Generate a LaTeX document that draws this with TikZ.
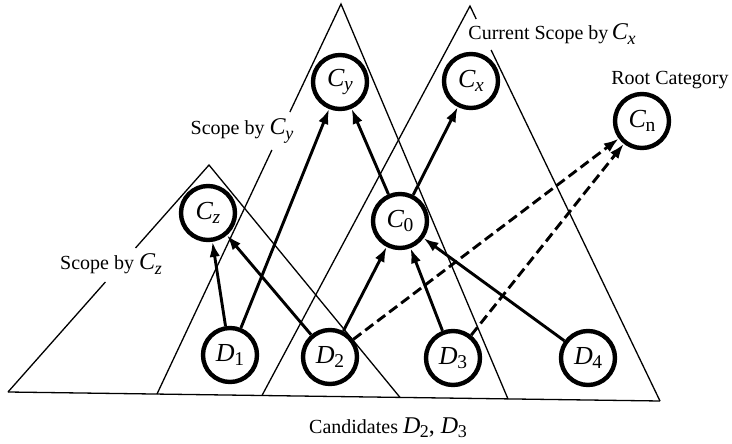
\documentclass[tikz,border=0pt]{standalone}
\usepackage{fontspec}
\usepackage{graphicx}
\setmainfont{Liberation Serif}
\usetikzlibrary{arrows.meta}
\newcommand\mv[2]{\textit{#1}\kern-0.02em\raisebox{-0.4ex}{\scalebox{0.75}{#2}}}
\newcommand\lgmath[1]{{\fontsize{24}{28}\selectfont #1}}
\tikzset{
  cat/.style={circle, draw, fill=white, line width=4.4pt, minimum size=54pt, inner sep=0pt, font=\fontsize{26}{30}\selectfont},
  edge/.style={line width=1.3pt},
  arr/.style={line width=2.9pt, -{Latex[length=15pt,width=10.5pt]}},
  darr/.style={arr, dash pattern=on 10pt off 5pt},
  lbl/.style={font=\fontsize{20}{24}\selectfont, inner sep=0pt}
}
\begin{document}
\begin{tikzpicture}[x=1pt,y=-1pt]
\useasboundingbox (0,0) rectangle (732,444);
% triangle Cz
\coordinate (zA) at (209,165);
\coordinate (zL) at (8,392);
\coordinate (zR) at (400,397.4);
\coordinate (zb1) at (135.5,248);
\coordinate (zb2) at (105.4,282);
% triangle Cy
\coordinate (yA) at (341,4);
\coordinate (yL) at (157,394);
\coordinate (yR) at (508,399);
\coordinate (yb1) at (289.9,112);
\coordinate (yb2) at (271.9,150);
% triangle Cx
\coordinate (xA) at (470,6);
\coordinate (xL) at (262,395.5);
\coordinate (xR) at (660,401);
\coordinate (xb1) at (476.2,19);
\coordinate (xb2) at (491.1,50);

\draw[edge] (zb1) -- (zA) -- (zR);
\draw[edge] (zb2) -- (zL);
\draw[edge] (yb1) -- (yA) -- (yR);
\draw[edge] (yb2) -- (yL);
\draw[edge] (xL) -- (xA) -- (xb1);
\draw[edge] (xb2) -- (xR);
\draw[edge] (zL) -- (xR);

% nodes
\node[cat] (Cy) at (340,82) {\mv{C}{\textit{y}}};
\node[cat] (Cx) at (471,81) {\mv{C}{\textit{x}}};
\node[cat] (Cn) at (642,121) {\mv{C}{n}};
\node[cat] (Cz) at (208,213) {\mv{C}{\textit{z}}};
\node[cat] (C0) at (400,221) {\mv{C}{0}};
\node[cat] (D1) at (230,355) {\mv{D}{1}};
\node[cat] (D2) at (330,357) {\mv{D}{2}};
\node[cat] (D3) at (453,358) {\mv{D}{3}};
\node[cat] (D4) at (588,358) {\mv{D}{4}};

% labels
\node[lbl] (tCz) at (111,264) {Scope by \lgmath{\mv{C}{\textit{z}}}};
\node[lbl] (tCy) at (242,131) {Scope by \lgmath{\mv{C}{\textit{y}}}};
\node[lbl] (tCx) at (552,34) {Current Scope by\,\lgmath{\mv{C}{\textit{x}}}};
\node[lbl] (tRoot) at (670,80) {Root Category};
\node[lbl] (tCand) at (388,428) {Candidates \lgmath{\mv{D}{2}, \mv{D}{3}}};

% arrows
\draw[arr] (D1) -- (Cz);
\draw[arr] (D1) -- (Cy);
\draw[arr] (D2) -- (Cz);
\draw[arr] (D2) -- (C0);
\draw[arr] (C0) -- (Cy);
\draw[arr] (C0) -- (Cx);
\draw[arr] (D3) -- (C0);
\draw[arr] (D4) -- (C0);
\draw[darr] (D2) -- (Cn);
\draw[darr] (D3) -- (Cn);
\end{tikzpicture}
\end{document}
